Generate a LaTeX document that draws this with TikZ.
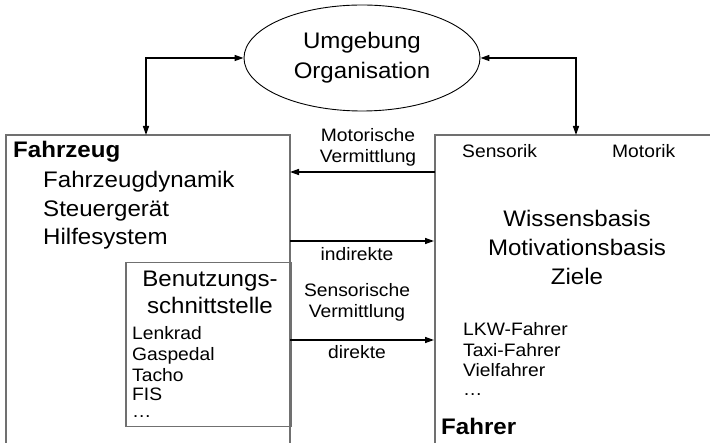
\documentclass[tikz,border=0pt]{standalone}
\usepackage{fontspec}
\setmainfont[FakeStretch=1.07]{Liberation Sans}
\usetikzlibrary{arrows.meta,shapes.geometric}
\definecolor{boxgray}{HTML}{707070}
\begin{document}
\begin{tikzpicture}[x=1pt,y=-1pt,
  boxline/.style={draw=boxgray,line width=1.8pt},
  big/.style={font=\fontsize{22.5}{27}\selectfont,inner sep=0pt},
  small/.style={font=\fontsize{18}{21}\selectfont,inner sep=0pt},
  dots/.style={font=\fontsize{18}{21}\selectfont,inner sep=0pt,text height=2.5pt,text depth=0pt},
  bigbold/.style={font=\fontsize{22.5}{27}\selectfont\bfseries,inner sep=0pt},
  conn/.style={line width=1.4pt,-{Triangle[length=9pt,width=6pt]}},
  dconn/.style={line width=1.4pt,{Triangle[length=9pt,width=6pt]}-{Triangle[length=9pt,width=6pt]}},
]
\useasboundingbox (0,0) rectangle (710,443);
\clip (0,0) rectangle (710,443);

% environment ellipse
\node[draw,ellipse,line width=0.9pt,minimum width=236pt,minimum height=106pt,
      inner sep=0pt,align=center,font=\fontsize{22.5}{30}\selectfont] (env) at (362,58)
      {Umgebung\\Organisation};

% Fahrzeug box (open at bottom)
\coordinate (fzBL) at (6,450);
\coordinate (fzTL) at (6,135);
\coordinate (fzTR) at (290,135);
\coordinate (fzBR) at (290,450);
\draw[boxline] (fzBL) -- (fzTL) -- (fzTR) -- (fzBR);

% Fahrer box (open at bottom and right)
\coordinate (frBL) at (435,450);
\coordinate (frTL) at (435,135);
\coordinate (frTR) at (715,135);
\draw[boxline] (frBL) -- (frTL) -- (frTR);

% Benutzungsschnittstelle box
\node[draw=boxgray,line width=1.5pt,minimum width=165pt,minimum height=164pt,
      anchor=north west,inner sep=0pt] (ui) at (125,262) {};

% connectors to environment
\coordinate (fzTop) at (146,135);
\coordinate (frTop) at (576,135);
\draw[dconn] (fzTop) |- (env.west);
\draw[dconn] (frTop) |- (env.east);

% mediation arrows
\coordinate (frMot) at (435,172);
\coordinate (fzMot) at (290,172);
\coordinate (fzInd) at (290,241);
\coordinate (frInd) at (434,241);
\coordinate (fzDir) at (290,340);
\coordinate (frDir) at (434,340);
\draw[conn] (frMot) -- (fzMot);
\draw[conn] (fzInd) -- (frInd);
\draw[conn] (fzDir) -- (frDir);

% middle labels
\node[small,anchor=base] (lmot1) at (368,142) {Motorische};
\node[small,anchor=base] (lmot2) at (368,163) {Vermittlung};
\node[small,anchor=base] (lind) at (357,261) {indirekte};
\node[small,anchor=base] (lsen1) at (357,297) {Sensorische};
\node[small,anchor=base] (lsen2) at (357,318) {Vermittlung};
\node[small,anchor=base] (ldir) at (357,359) {direkte};

% Fahrzeug contents
\node[bigbold,anchor=base west] (tfz) at (13,158) {Fahrzeug};
\node[big,anchor=base west] (tfd) at (43,188) {Fahrzeugdynamik};
\node[big,anchor=base west] (tsg) at (43,216.5) {Steuergerät};
\node[big,anchor=base west] (ths) at (43,245) {Hilfesystem};

% UI contents
\node[big,anchor=base] (tbu1) at (210,287) {Benutzungs-};
\node[big,anchor=base] (tbu2) at (210,314) {schnittstelle};
\node[small,anchor=base west] (tl1) at (132,340) {Lenkrad};
\node[small,anchor=base west] (tl2) at (132,361) {Gaspedal};
\node[small,anchor=base west] (tl3) at (132,382) {Tacho};
\node[small,anchor=base west] (tl4) at (132,401) {FIS};
\node[dots,anchor=base west] (tl5) at (132,418) {\ldots};

% Fahrer contents
\node[small,anchor=base west] (tsens) at (462,158) {Sensorik};
\node[small,anchor=base west] (tmot) at (612,158) {Motorik};
\node[big,anchor=base] (tw1) at (577,227) {Wissensbasis};
\node[big,anchor=base] (tw2) at (577,256) {Motivationsbasis};
\node[big,anchor=base] (tw3) at (577,285) {Ziele};
\node[small,anchor=base west] (tr1) at (463,336) {LKW-Fahrer};
\node[small,anchor=base west] (tr2) at (463,357) {Taxi-Fahrer};
\node[small,anchor=base west] (tr3) at (463,377) {Vielfahrer};
\node[dots,anchor=base west] (tr4) at (463,396) {\ldots};
\node[bigbold,anchor=base west] (tfr) at (441,435) {Fahrer};
\end{tikzpicture}
\end{document}
